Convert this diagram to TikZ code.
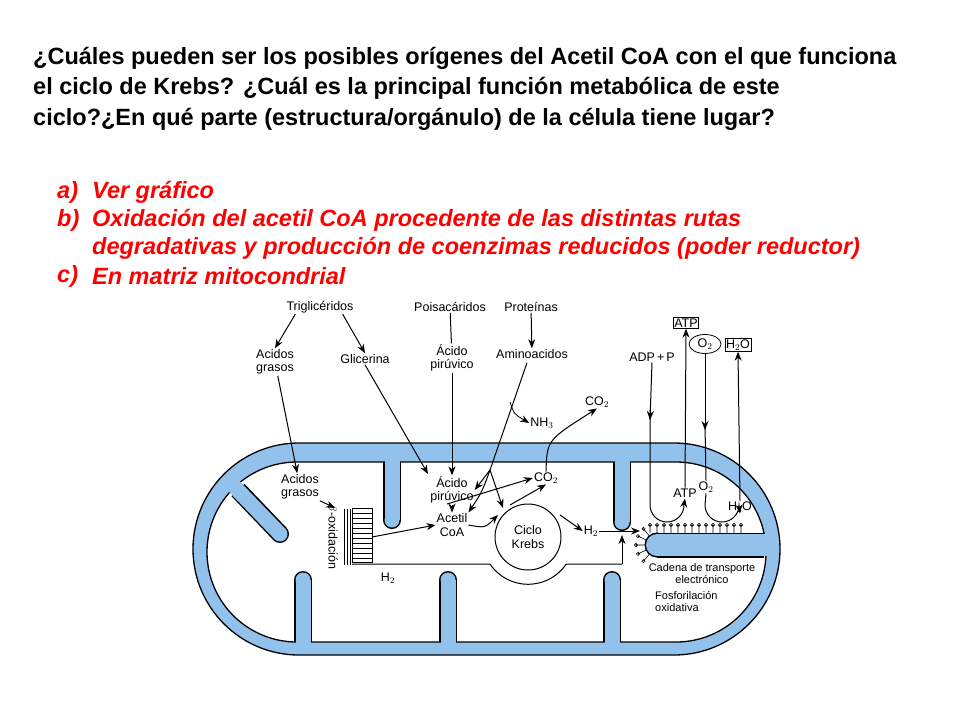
\documentclass[tikz,border=0pt]{standalone}
\usepackage{fontspec}
\setmainfont{Liberation Sans}
\usepackage{tikz}
\usetikzlibrary{arrows.meta,positioning,shapes.geometric}
\definecolor{mito}{RGB}{146,194,236}
\newcommand{\crista}[4]{%
\draw[line width=#4+3] #2 -- #3; \fill #3 circle ({(#4+3)/2});
\draw[mito,line width=#4] #1 -- #3; \fill[mito] #3 circle ({#4/2});}
\tikzset{
  lab/.style={font=\fontsize{12.5}{13.5}\selectfont,align=center,inner sep=1pt},
  arr/.style={-{Stealth[length=9pt,width=7pt]},line width=1pt},
  stalk/.style={line width=0.6pt}
}
\begin{document}
\begin{tikzpicture}[x=1pt,y=-1pt]
\useasboundingbox (0,0) rectangle (960,720);
\node[anchor=north west,align=left,font=\bfseries\fontsize{23.5}{30.5}\selectfont,inner sep=0pt] (quest) at (33,47)
 {¿Cuáles pueden ser los posibles orígenes del Acetil CoA con el que funciona\\
 el ciclo de Krebs? ¿Cuál es la principal función metabólica de este\\
 ciclo?¿En qué parte (estructura/orgánulo) de la célula tiene lugar?};
\begin{scope}[red,font=\bfseries\itshape\fontsize{23.5}{28}\selectfont,anchor=west,inner sep=0pt]
\node (la) at (57,192) {a)}; \node (ta) at (92,192) {Ver gráfico};
\node (lb) at (57,220) {b)}; \node (tb) at (92,220) {Oxidación del acetil CoA procedente de las distintas rutas};
\node (tb2) at (92,248) {degradativas y producción de coenzimas reducidos (poder reductor)};
\node (lc) at (57,276) {c)}; \node (tc) at (92,276) {En matriz mitocondrial};
\end{scope}

% membranes
\filldraw[fill=mito,line width=1.3pt,rounded corners=106] (193,443) rectangle (780,655);
\filldraw[fill=white,line width=1.3pt,rounded corners=90] (207,462) rectangle (766,642);
\crista{(392,452)}{(392,462)}{(392,520)}{15}
\crista{(622,452)}{(622,462)}{(622,522)}{15}
\crista{(303,650)}{(303,642)}{(303,580)}{15}
\crista{(448,650)}{(448,642)}{(448,580)}{15}
\crista{(612,650)}{(612,642)}{(612,580)}{15}
\crista{(228,480)}{(238,490)}{(280,534)}{15}
\crista{(775,545)}{(764,545)}{(657,545)}{22}

% stalks of the inner crista
\foreach \x in {650,657,...,742}
  \draw[stalk] (\x,533) -- (\x,525) circle (1.6);
\foreach \a in {130,155,180,205,230}
  \draw[stalk] (657,545) ++(\a:11) -- ++(\a:10) circle (1.6);

% beta oxidation and channel
\draw[line width=0.8pt] (352,508) rectangle (372,562);
\foreach \y in {513,518,...,558} \draw[line width=0.5pt] (352,\y) -- (372,\y);
\foreach \x in {344,347,350} \draw[line width=0.6pt] (\x,509) -- (\x,565);
\node[lab,rotate=-90] (beta) at (332,537) {$\beta$-oxidación};
\draw[line width=1pt] (352,564) -- (490,564) arc[start angle=146,end angle=34,radius=46] -- (622,564);
\node[lab] (h2b) at (388,578) {H$_2$};
\node[lab] (krebs) at (528,537) {Ciclo\\Krebs};
\draw[line width=1pt] (krebs) circle (33);

% outside labels
\node[lab] (trig) at (320,307) {Triglicéridos};
\node[lab] (agr) at (275,362) {Acidos\\grasos};
\node[lab] (glic) at (365,359) {Glicerina};
\node[lab] (poli) at (450,307) {Poisacáridos};
\node[lab] (pir) at (452,358) {Ácido\\pirúvico};
\node[lab] (prot) at (531,307) {Proteínas};
\node[lab] (amino) at (532,354) {Aminoacidos};
\node[lab] (nh3) at (542,423) {NH$_3$};
\node[lab] (co2o) at (597,402) {CO$_2$};
\node[lab,draw,line width=0.8pt] (atpo) at (686,323) {ATP};
\node[lab,draw,ellipse,line width=0.8pt,inner sep=0pt,minimum width=32,minimum height=19] (o2o) at (705,344) {O$_2$};
\node[lab,draw,line width=0.8pt] (h2oo) at (738,345) {H$_2$O};
\node[lab] (adp) at (652,357) {ADP\,+\,P};

% inside labels
\node[lab] (agri) at (300,487) {Acidos\\grasos};
\node[lab] (piri) at (452,490) {Ácido\\pirúvico};
\node[lab] (acoa) at (452,525) {Acetil\\CoA};
\node[lab] (co2i) at (546,478) {CO$_2$};
\node[lab] (h2i) at (591,531) {H$_2$};
\node[lab] (atpi) at (685,493) {ATP};
\node[lab] (o2i) at (706,487) {O$_2$};
\node[lab] (h2oi) at (740,507) {H$_2$O};
\node[lab,font=\fontsize{11}{12}\selectfont] (cad) at (702,574) {Cadena de transporte\\electrónico};
\node[lab,font=\fontsize{11}{12}\selectfont,align=left,anchor=west] (fosf) at (654,601) {Fosforilación\\oxidativa};

% connectors
\draw[arr] (trig.south west)++(10,0) -- (agr.north);
\draw[arr] (trig.south east)++(-12,0) -- (glic.north);
\draw[line width=1pt] (poli) -- (pir);
\draw[arr] (prot) -- (amino);
\draw[arr] (agr) -- (agri);
\draw[arr] (glic.south) -- (428,474);
\draw[arr] (pir) -- (piri);
\coordinate (br) at (490,470);
\draw[line width=1pt] (amino.south)++(-5,3) -- (br);
\draw[arr,line width=0.8pt] (510,402) .. controls (514,414) .. (nh3.west);
\draw[arr] (br) -- (piri.east);
\draw[arr] (br) .. controls (482,492) .. (acoa.north east);
\draw[arr] (br) -- (503,508);
\draw[arr] (agri.south east) -- (335,508);
\draw[arr] (372,537) -- (acoa.west);
\draw[arr] (piri.south) -- (acoa.north);
\draw[arr] (447,504) -- (co2i.west);
\draw[arr] (acoa.east) .. controls (485,528) .. (498,515);
\draw[arr] (510,505) -- (co2i.south);
\draw[arr] (co2i.north) .. controls (547,440) .. (co2o.south);
\draw[arr] (560,515) .. controls (570,522) .. (h2i.west);
\draw[arr] (h2i.east) -- (640,531);
\draw[arr] (622,564) -- (622,535);
\coordinate (lp) at (650,505);
\draw[arr] (adp.south) -- (650,420);
\draw[arr] (650,410) -- (lp) arc[start angle=180,end angle=0,radius=17] -- (atpi.south);
\draw[arr] (atpi.north) -- (atpo.south);
\draw[arr] (o2o.south) -- (705,430);
\draw[line width=1pt] (705,425) -- (o2i.north);
\draw[arr] (o2i.south) -- (705,505) arc[start angle=180,end angle=0,radius=17] -- (h2oi.south);
\draw[arr] (h2oi.north) -- (h2oo.south);
\end{tikzpicture}
\end{document}
